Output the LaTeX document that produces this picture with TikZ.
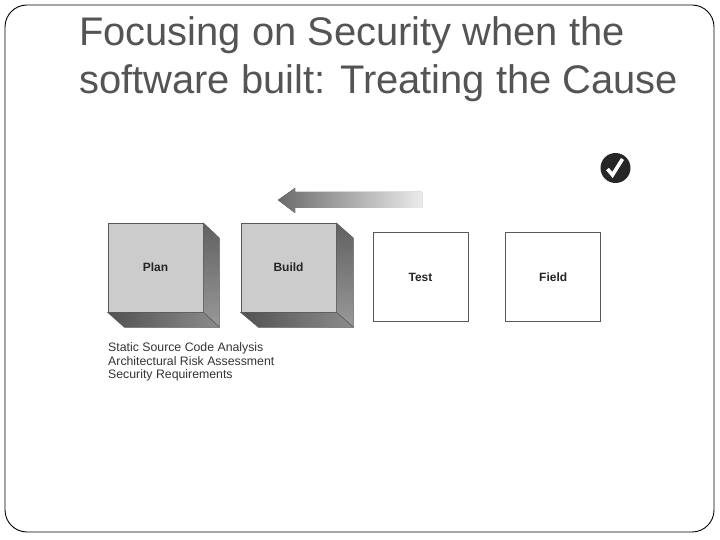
\documentclass[tikz,border=0pt]{standalone}
\usepackage{fontspec}
\setmainfont{Liberation Sans}
\definecolor{titlegray}{gray}{0.33}
\definecolor{facegray}{gray}{0.80}
\begin{document}
\begin{tikzpicture}[x=1pt,y=-1pt]

      \tikzset{front/.style={draw=black!65, line width=.8pt, fill=facegray, inner sep=0pt, minimum width=95pt, minimum height=88.5pt, font=\bfseries\fontsize{12}{14}\selectfont, text=black!85},
      flat/.style={draw=black!65, line width=.8pt, fill=white, inner sep=0pt, minimum width=95pt, minimum height=89pt, font=\bfseries\fontsize{12}{14}\selectfont, text=black!85},
      sideface/.style={draw=black!65, line width=.5pt, top color=black!62, bottom color=black!40},
      lowerface/.style={draw=black!65, line width=.5pt, left color=black!68, right color=black!45},
      titleline/.style={anchor=west, inner sep=0pt, text=titlegray, font=\fontsize{39.9}{44}\selectfont}}
      \useasboundingbox (0,0) rectangle (720,540);
%% Frame
      	\draw[black, line width=.9pt, rounded corners=22pt] (5,5) rectangle (714,532);
%% Title
      	\node[titleline] (title1) at (79,35) {Focusing on Security when the};
      	\node[titleline] (title2) at (79,83) {software built: Treating the Cause};
%% Boxes
      	\node[front] (plan) at (155.5,267.7) {Plan};
      	\node[front] (build) at (288.5,267.7) {Build};
      	\node[flat] (test) at (420.5,277) {Test};
      	\node[flat] (field) at (553.2,277) {Field};
%Depth faces
      	\draw[sideface] (plan.north east) -- ++(16,15) -- ++(0,89) -- (plan.south east) -- cycle;
      	\draw[lowerface] (plan.south west) -- (plan.south east) -- ++(16,15) -- ++(-95,0) -- cycle;
      	\draw[sideface] (build.north east) -- ++(17,15) -- ++(0,89) -- (build.south east) -- cycle;
      	\draw[lowerface] (build.south west) -- (build.south east) -- ++(17,15) -- ++(-95,0) -- cycle;
%% Techniques
      	\node[anchor=north west, inner sep=0pt, align=left, text=black!80, font=\fontsize{12.3}{13.5}\selectfont] (list) at (108,342.5) {Static Source Code Analysis\\Architectural Risk Assessment\\Security Requirements};
%% Arrow
      	\fill[left color=black!58, right color=black!8] (278,200) -- (295,188) -- (295,192) -- (422,192) -- (422,208) -- (295,208) -- (295,213) -- cycle;
%% Check mark
      	\node[circle, fill=black!85, inner sep=0pt, minimum size=30pt] (check) at (615.5,168) {};
      	\draw[white, line width=3.6pt] ([shift={(-8,1)}]check.center) -- ([shift={(-3,7)}]check.center) -- ([shift={(7,-9)}]check.center);

	\end{tikzpicture}
\end{document}
